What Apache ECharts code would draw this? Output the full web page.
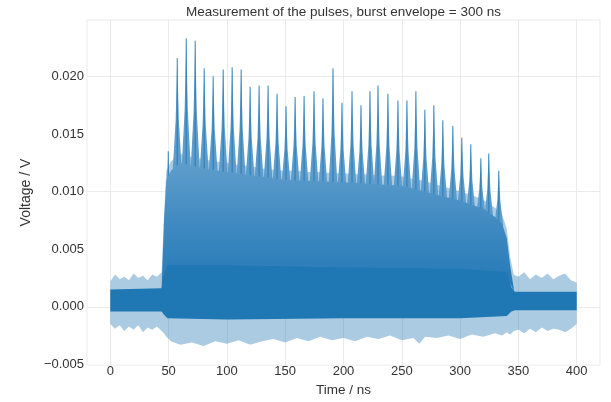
<!DOCTYPE html>
<html>
<head>
<meta charset="utf-8">
<script src="https://cdn.jsdelivr.net/npm/echarts@6/dist/echarts.min.js"></script>
<style>html,body{margin:0;padding:0;background:#fff}#c{width:611px;height:402px}</style>
</head>
<body>
<div id="c"></div>
<script>
// ---- tick labels ----
const xTicks = [0, 50, 100, 150, 200, 250, 300, 350, 400];
const yTicks = [-0.005, 0, 0.005, 0.01, 0.015, 0.02];

// ---- individual pulses in the burst (time / ns, peak / V, base / V) ----
const pulseTime = [49.7, 57.4, 65.1, 72.8, 80.5, 88.2, 96.8, 104.5, 112.2, 119.9, 127.6, 135.3, 143.0, 150.7, 158.5, 166.2, 174.7, 182.4, 191.0, 198.7, 207.3, 215.0, 222.7, 229.6, 238.1, 246.7, 254.4, 262.1, 269.8, 277.5, 285.2, 293.8, 301.5, 309.2, 317.8, 324.6, 333.2];
const pulsePeak = [0.0135, 0.0216, 0.0233, 0.0231, 0.0207, 0.0200, 0.0206, 0.0208, 0.0206, 0.0191, 0.0192, 0.0192, 0.0185, 0.0174, 0.0182, 0.0183, 0.0187, 0.0181, 0.0207, 0.0177, 0.0187, 0.0175, 0.0187, 0.0192, 0.0185, 0.0179, 0.0179, 0.0187, 0.0171, 0.0175, 0.0162, 0.0157, 0.0147, 0.0141, 0.0129, 0.0133, 0.0118];
const pulseBase = [0.0070, 0.0118, 0.0120, 0.0119, 0.0117, 0.0116, 0.0114, 0.0113, 0.0112, 0.0111, 0.0110, 0.0108, 0.0107, 0.0106, 0.0106, 0.0105, 0.0105, 0.0104, 0.0104, 0.0103, 0.0103, 0.0102, 0.0102, 0.0101, 0.0101, 0.0100, 0.0099, 0.0097, 0.0095, 0.0093, 0.0091, 0.0089, 0.0087, 0.0083, 0.0080, 0.0076, 0.0070];

// ---- outer (sparse spikes) envelope of the trace ----
const lightT  = [0, 4, 8, 12, 16, 20, 24, 28, 32, 36, 40, 44, 46, 48, 52, 60, 70, 80, 90, 100, 110, 120, 130, 140, 150, 160, 170, 180, 190, 200, 210, 220, 230, 240, 250, 260, 265, 270, 280, 290, 300, 310, 320, 330, 336, 340, 343, 346, 350, 355, 360, 365, 370, 375, 380, 385, 390, 395, 400];
const lightHi = [0.0022, 0.0028, 0.0024, 0.0026, 0.0023, 0.0029, 0.0025, 0.0027, 0.0023, 0.0028, 0.0026, 0.0030, 0.0078, 0.0118, 0.0126, 0.0133, 0.0130, 0.0128, 0.0126, 0.0125, 0.0123, 0.0122, 0.0120, 0.0119, 0.0118, 0.0118, 0.0117, 0.0117, 0.0116, 0.0116, 0.0115, 0.0115, 0.0114, 0.0114, 0.0113, 0.0111, 0.0110, 0.0109, 0.0106, 0.0103, 0.0100, 0.0097, 0.0093, 0.0086, 0.0080, 0.0068, 0.0043, 0.0028, 0.0026, 0.0030, 0.0024, 0.0028, 0.0025, 0.0029, 0.0024, 0.0027, 0.0029, 0.0023, 0.0021];
const lightLo = [-0.0015, -0.0019, -0.0016, -0.0021, -0.0017, -0.0020, -0.0016, -0.0022, -0.0018, -0.0020, -0.0017, -0.0021, -0.0023, -0.0026, -0.0030, -0.0033, -0.0031, -0.0034, -0.0030, -0.0032, -0.0029, -0.0033, -0.0030, -0.0028, -0.0031, -0.0027, -0.0030, -0.0026, -0.0029, -0.0027, -0.0030, -0.0026, -0.0028, -0.0025, -0.0029, -0.0027, -0.0032, -0.0026, -0.0027, -0.0025, -0.0028, -0.0024, -0.0026, -0.0023, -0.0025, -0.0022, -0.0024, -0.0021, -0.0020, -0.0023, -0.0019, -0.0022, -0.0018, -0.0021, -0.0019, -0.0020, -0.0022, -0.0019, -0.0015];

// ---- dense fill inside the burst ----
const burstT  = [44, 46, 48, 52, 60, 80, 100, 150, 200, 250, 300, 320, 330, 336, 340, 343, 346];
const burstHi = [0.0016, 0.0072, 0.0110, 0.0118, 0.0125, 0.0120, 0.0117, 0.0110, 0.0108, 0.0105, 0.0092, 0.0085, 0.0078, 0.0072, 0.0060, 0.0035, 0.0016];
const burstLo = [0.0015, 0.0020, 0.0025, 0.0030, 0.0032, 0.0032, 0.0032, 0.0031, 0.0030, 0.0030, 0.0029, 0.0028, 0.0028, 0.0027, 0.0026, 0.0020, 0.0014];

// ---- dark core of the trace ----
const coreT  = [0, 44, 46, 49, 100, 200, 300, 340, 344, 347, 400];
const coreLo = [-0.0004, -0.0004, -0.0007, -0.0010, -0.0011, -0.0010, -0.0010, -0.0008, -0.0004, -0.0003, -0.0003];
const coreHi = [0.0015, 0.0016, 0.0028, 0.0036, 0.0036, 0.0034, 0.0033, 0.0030, 0.0017, 0.0013, 0.0013];

const FONT = '"Liberation Sans", Arial, Helvetica, sans-serif';
const TXT = '#333333';
const BLUE = '#1f77b4';

function band(t, lo, hi, fill, z) {
  return {
    type: 'custom', z: z, silent: true, clip: true,
    data: [[t[0], lo[0]]], encode: { x: 0, y: 1 },
    renderItem: function (params, api) {
      const pts = [];
      for (let i = 0; i < t.length; i++) pts.push(api.coord([t[i], hi[i]]));
      for (let i = t.length - 1; i >= 0; i--) pts.push(api.coord([t[i], lo[i]]));
      return { type: 'polygon', shape: { points: pts }, style: { fill: fill } };
    }
  };
}

const HW = 3.9; // pulse half-width at its base, ns
const pulseData = pulseTime.map((t, i) => [t, pulsePeak[i], pulseBase[i]]);

const gridLines = xTicks.map(v => ({ xAxis: v })).concat(yTicks.map(v => ({ yAxis: v })));

const chart = echarts.init(document.getElementById('c'), null, { renderer: 'canvas' });
chart.setOption({
  animation: false,
  backgroundColor: '#ffffff',
  grid: { left: 87, right: 11, top: 20, bottom: 25, show: true, borderColor: '#ebebeb', borderWidth: 1, backgroundColor: 'transparent' },
  graphic: [{
    type: 'text', x: 343.5, y: 12, silent: true,
    style: { text: 'Measurement of the pulses, burst envelope = 300 ns', font: '13.5px ' + FONT, fill: TXT, align: 'center', verticalAlign: 'middle', textAlign: 'center', textVerticalAlign: 'middle' }
  }],
  xAxis: {
    type: 'value', min: -20, max: 420,
    axisLine: { show: false }, axisTick: { show: false }, splitLine: { show: false },
    axisLabel: { customValues: xTicks, fontSize: 13, fontFamily: FONT, color: TXT, margin: 0 },
    name: 'Time / ns', nameLocation: 'middle', nameGap: 13,
    nameTextStyle: { fontSize: 13.5, fontFamily: FONT, color: TXT }
  },
  yAxis: {
    type: 'value', min: -0.00506, max: 0.02489,
    axisLine: { show: false }, axisTick: { show: false }, splitLine: { show: false },
    axisLabel: {
      customValues: yTicks, fontSize: 13, fontFamily: FONT, color: TXT, margin: 3,
      formatter: v => (v < 0 ? '\u2212' : '') + Math.abs(v).toFixed(3)
    },
    name: 'Voltage / V', nameLocation: 'middle', nameGap: 36,
    nameTextStyle: { fontSize: 14, fontFamily: FONT, color: TXT }
  },
  series: [
    {
      type: 'line', z: 1, zlevel: 0, silent: true, data: [[0, 0]], symbol: 'none', lineStyle: { opacity: 0 },
      markLine: { z: 1, silent: true, animation: false, symbol: ['none', 'none'], label: { show: false },
        lineStyle: { color: '#ebebeb', width: 1, type: 'solid' }, emphasis: { disabled: true }, data: gridLines }
    },
    band(lightT, lightLo, lightHi, 'rgba(31,119,180,0.38)', 2),
    {
      type: 'custom', z: 3, silent: true, clip: true, data: pulseData, encode: { x: 0, y: 1 },
      renderItem: function (params, api) {
        const t = api.value(0), pk = api.value(1), b = api.value(2);
        const top = api.coord([t, pk]);
        const bl = api.coord([t - HW, b]);
        const br = api.coord([t + HW, b]);
        const ml = api.coord([t - HW * 0.35, b + (pk - b) * 0.45]);
        const mr = api.coord([t + HW * 0.35, b + (pk - b) * 0.45]);
        const bc = api.coord([t, b]);
        return {
          type: 'group', children: [
            { type: 'polygon', shape: { points: [bl, ml, top, mr, br] }, style: { fill: '#5e9dcb' } },
            { type: 'line', shape: { x1: bc[0], y1: bc[1], x2: top[0], y2: top[1] }, style: { stroke: BLUE, lineWidth: 1.1, opacity: 0.8 } }
          ]
        };
      }
    },
    band(burstT, burstLo, burstHi, new echarts.graphic.LinearGradient(0, 0, 0, 1, [
      { offset: 0, color: '#5e9dcb' }, { offset: 0.5, color: '#3e89c1' }, { offset: 1, color: '#2479b5' }]), 4),
    band(coreT, coreLo, coreHi, BLUE, 5)
  ]
});
</script>
</body>
</html>
